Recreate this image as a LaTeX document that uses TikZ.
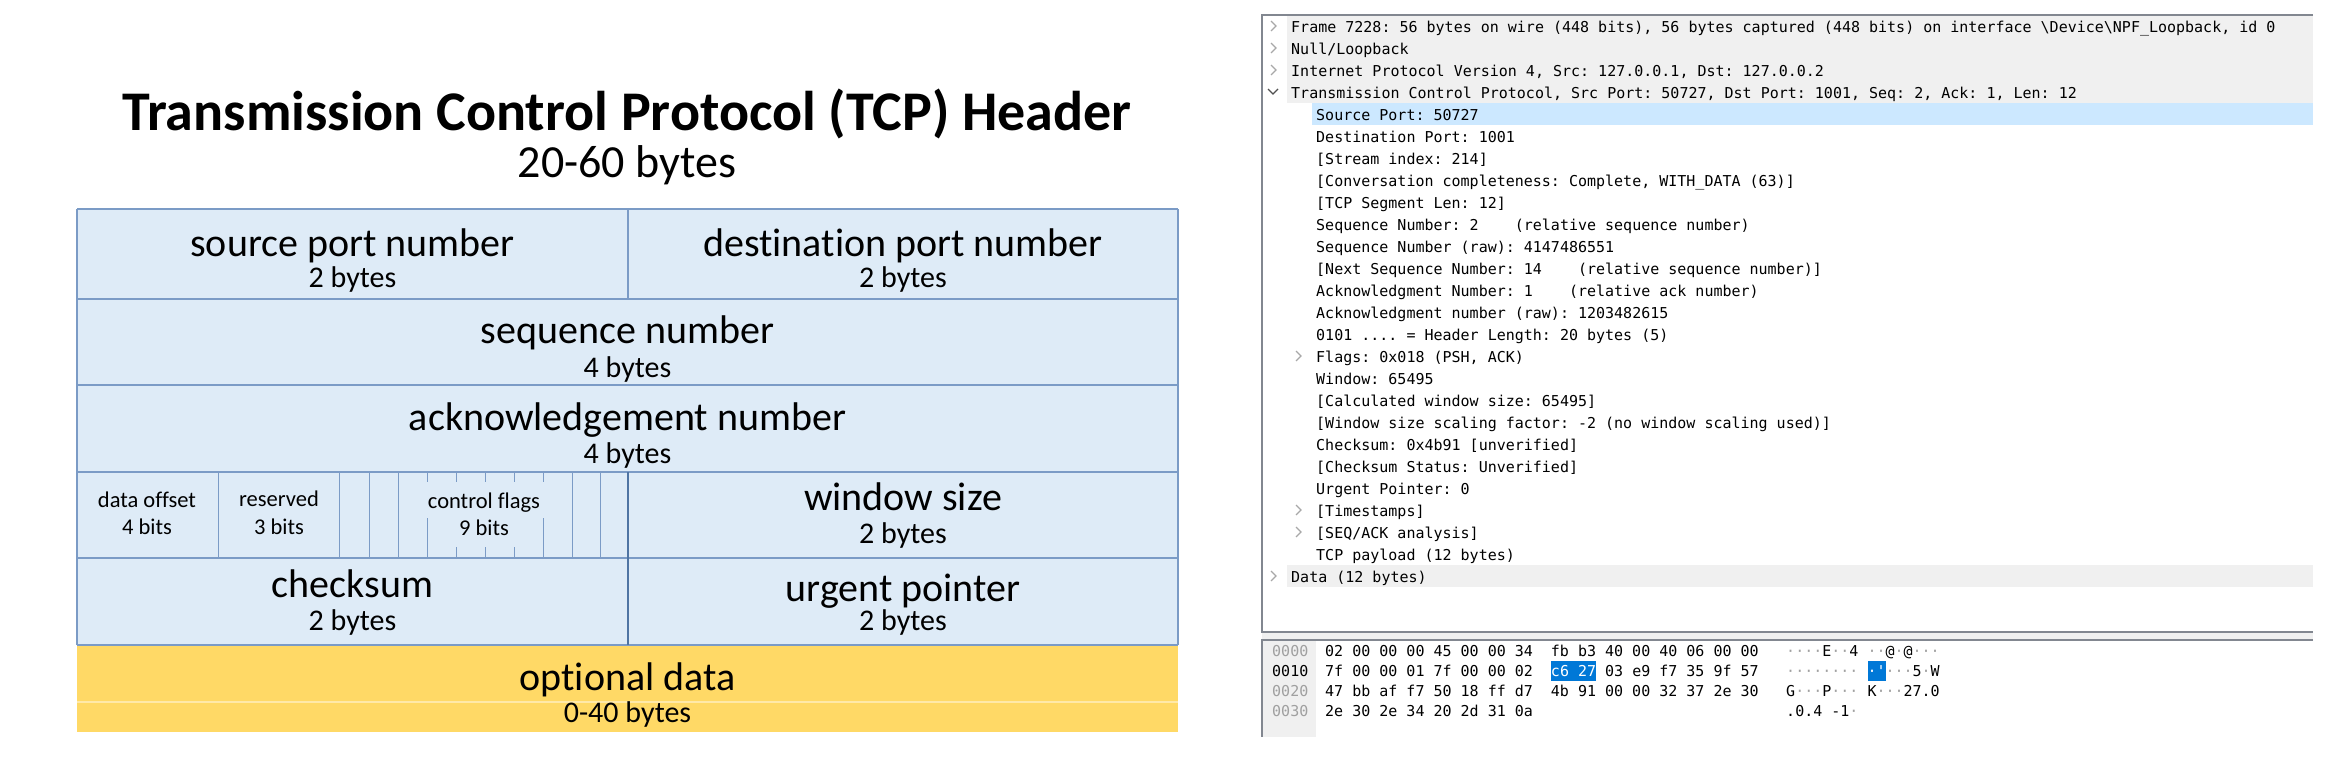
\documentclass[tikz,border=0pt]{standalone}
\usepackage{fontspec}
\setmainfont{Carlito}[Ligatures=CommonOff]
\newfontfamily\wsmono{DejaVu Sans Mono}
\definecolor{cellblue}{HTML}{DEEBF7}
\definecolor{cellline}{HTML}{7B9BC6}
\definecolor{celldark}{HTML}{4F74A3}
\definecolor{optyellow}{HTML}{FFD966}
\definecolor{optline}{HTML}{FFE9A8}
\definecolor{paneline}{HTML}{828790}
\definecolor{panegray}{HTML}{F0F0F0}
\definecolor{selblue}{HTML}{CCE8FF}
\definecolor{hexblue}{HTML}{0078D7}
\definecolor{offgray}{HTML}{A0A0A0}
\definecolor{chevgray}{HTML}{A8A8A8}
\definecolor{chevdark}{HTML}{505050}
\newcommand{\nd}{\textcolor{offgray}{·}}
\newcommand{\hexsel}[1]{{\setlength{\fboxsep}{0pt}\colorbox{hexblue}{\textcolor{white}{\rule[-5pt]{0pt}{20pt}#1}}}}

\begin{document}
\begin{tikzpicture}[x=1pt,y=-1pt,
    big/.style={font=\fontsize{40}{48}\selectfont,anchor=base,inner sep=0pt},
    mid/.style={font=\fontsize{30}{36}\selectfont,anchor=base,inner sep=0pt},
    tiny/.style={font=\fontsize{22.5}{27}\selectfont,anchor=base,inner sep=0pt},
    ws/.style={font=\wsmono\fontsize{15}{18}\selectfont\frenchspacing,anchor=base west,inner sep=0pt},
    chev/.style={draw=chevgray,line width=1.2pt},
    cell/.style={draw=cellline,line width=1.3pt}]
\useasboundingbox (0,0) rectangle (2342,774);

% title
\node[font=\fontsize{56}{67}\selectfont\bfseries,anchor=base,inner sep=0pt] (title) at (627,130) {Transmission Control Protocol (TCP) Header};
\node[font=\fontsize{46}{55}\selectfont,anchor=base,inner sep=0pt] (size) at (627,177) {20-60 bytes};

% header table
\fill[cellblue] (77,209) rectangle (1178,645);
\fill[optyellow] (77,645) rectangle (1178,732);
\draw[optline,line width=1.2pt] (77,702) -- (1178,702);
\foreach \y in {209,299,385,472,558,645}
    \draw[cell] (77,\y) -- (1178,\y);
\draw[cell] (77,209) -- (77,645) (1178,209) -- (1178,645) (628,209) -- (628,299);
\draw[cell,draw=celldark,line width=1.8pt] (628,472) -- (628,645);
\foreach \x in {218.5,339,369,398,572,600}
    \draw[cell,line width=1pt] (\x,472) -- (\x,558);
\foreach \x in {427,456,485,514,543}
    \draw[cell,line width=1pt] (\x,472) -- (\x,482) (\x,547) -- (\x,558);
\foreach \x in {427,543}
    \draw[cell,line width=1pt] (\x,518) -- (\x,547);

\node[big] (src) at (352.5,256) {source port number};
\node[mid] (srcb) at (352.5,287) {2 bytes};
\node[big] (dst) at (903,256) {destination port number};
\node[mid] (dstb) at (903,287) {2 bytes};
\node[big] (seq) at (627.5,343) {sequence number};
\node[mid] (seqb) at (627.5,377) {4 bytes};
\node[big] (ack) at (627.5,430) {acknowledgement number};
\node[mid] (ackb) at (627.5,463) {4 bytes};
\node[tiny] (off) at (147,507) {data offset};
\node[tiny] (offb) at (147,534) {4 bits};
\node[tiny] (res) at (279,506) {reserved};
\node[tiny] (resb) at (279,534) {3 bits};
\node[tiny] (flg) at (484,508) {control flags};
\node[tiny] (flgb) at (484,535) {9 bits};
\node[big] (win) at (903,510) {window size};
\node[mid] (winb) at (903,543) {2 bytes};
\node[big] (chk) at (352.5,597) {checksum};
\node[mid] (chkb) at (352.5,630) {2 bytes};
\node[big] (urg) at (903,601) {urgent pointer};
\node[mid] (urgb) at (903,630) {2 bytes};
\node[big] (opt) at (627.5,690) {optional data};
\node[mid] (optb) at (627.5,722) {0-40 bytes};

% packet details pane
\fill[panegray] (1287,15) rectangle (2313,103);
\fill[selblue] (1312,103) rectangle (2313,125);
\fill[panegray] (1287,565) rectangle (2313,587);
\fill[panegray] (1262,632) rectangle (2313,640);
\draw[paneline,line width=1.5pt] (2313,15) -- (1262,15) -- (1262,632) -- (2313,632);

\foreach \i in {0,1,2,25}
    \draw[chev] (1271,{21+22*\i}) -- (1276,{26+22*\i}) -- (1271,{31+22*\i});
\draw[chev,draw=chevdark] (1268,89) -- (1273,94) -- (1278,89);
\foreach \i in {15,22,23}
    \draw[chev] (1296,{21+22*\i}) -- (1301,{26+22*\i}) -- (1296,{31+22*\i});

\node[ws] (frame) at (1291,32.5) {Frame 7228: 56 bytes on wire (448 bits), 56 bytes captured (448 bits) on interface \textbackslash Device\textbackslash NPF\_Loopback, id 0};
\node[ws] (null) at (1291,54.5) {Null/Loopback};
\node[ws] (ip) at (1291,76.5) {Internet Protocol Version 4, Src: 127.0.0.1, Dst: 127.0.0.2};
\node[ws] (tcp) at (1291,98.5) {Transmission Control Protocol, Src Port: 50727, Dst Port: 1001, Seq: 2, Ack: 1, Len: 12};
\foreach \i/\txt in {4/{Source Port: 50727},
                     5/{Destination Port: 1001},
                     6/{[Stream index: 214]},
                     7/{[Conversation completeness: Complete, WITH\_DATA (63)]},
                     8/{[TCP Segment Len: 12]},
                     9/{Sequence Number: 2~~~~(relative sequence number)},
                     10/{Sequence Number (raw): 4147486551},
                     11/{[Next Sequence Number: 14~~~~(relative sequence number)]},
                     12/{Acknowledgment Number: 1~~~~(relative ack number)},
                     13/{Acknowledgment number (raw): 1203482615},
                     14/{0101 .... = Header Length: 20 bytes (5)},
                     15/{Flags: 0x018 (PSH, ACK)},
                     16/{Window: 65495},
                     17/{[Calculated window size: 65495]},
                     18/{[Window size scaling factor: -2 (no window scaling used)]},
                     19/{Checksum: 0x4b91 [unverified]},
                     20/{[Checksum Status: Unverified]},
                     21/{Urgent Pointer: 0},
                     22/{[Timestamps]},
                     23/{[SEQ/ACK analysis]},
                     24/{TCP payload (12 bytes)}}
    \node[ws] (d\i) at (1316,{32.5+22*\i}) {\txt};
\node[ws] (data) at (1291,582.5) {Data (12 bytes)};

% packet bytes pane
\fill[panegray] (1262,640) rectangle (1316,737);
\draw[paneline,line width=1.5pt] (2313,640) -- (1262,640) -- (1262,737);

\node[ws,text=offgray] (o0) at (1272,656) {0000};
\node[ws] (o1) at (1272,676) {0010};
\node[ws,text=offgray] (o2) at (1272,696) {0020};
\node[ws,text=offgray] (o3) at (1272,716) {0030};
\node[ws] (h0) at (1325,656) {02 00 00 00 45 00 00 34~~fb b3 40 00 40 06 00 00};
\node[ws] (h1) at (1325,676) {7f 00 00 01 7f 00 00 02~~\hexsel{c6 27} 03 e9 f7 35 9f 57};
\node[ws] (h2) at (1325,696) {47 bb af f7 50 18 ff d7~~4b 91 00 00 32 37 2e 30};
\node[ws] (h3) at (1325,716) {2e 30 2e 34 20 2d 31 0a};
\node[ws] (a0) at (1786,656) {\nd\nd\nd\nd{}E\nd\nd{}4 \nd\nd{}@\nd{}@\nd\nd\nd};
\node[ws] (a1) at (1786,676) {\nd\nd\nd\nd\nd\nd\nd\nd{} \hexsel{·'}\nd\nd\nd{}5\nd{}W};
\node[ws] (a2) at (1786,696) {G\nd\nd\nd{}P\nd\nd\nd{} K\nd\nd\nd{}27.0};
\node[ws] (a3) at (1786,716) {.0.4 -1\nd};
\end{tikzpicture}
\end{document}
